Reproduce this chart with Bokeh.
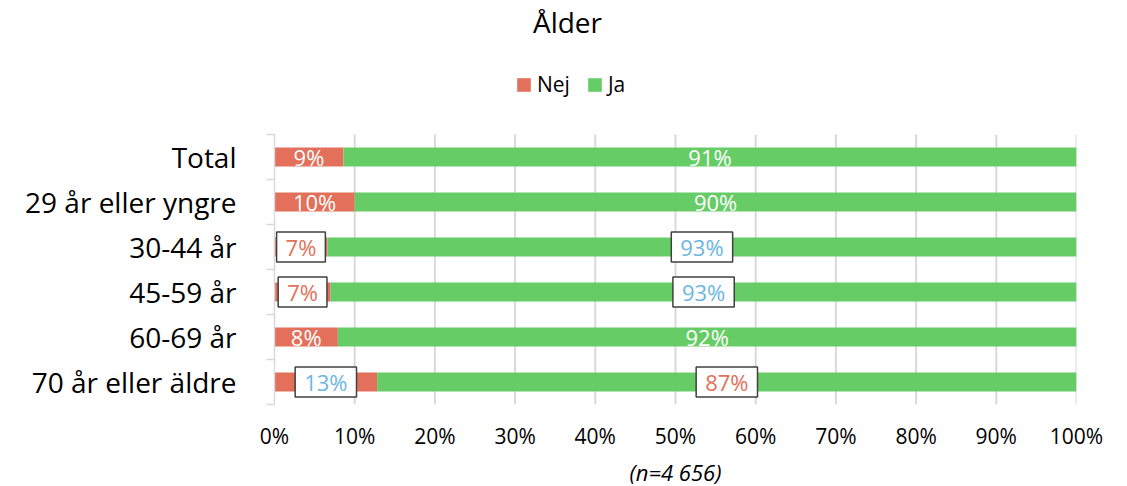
from bokeh.plotting import figure
from bokeh.models import (ColumnDataSource, FixedTicker, Label, Legend, LegendItem, Title)
from bokeh.core.properties import value
from bokeh.embed import file_html
from bokeh.resources import INLINE

# ---------------- data ----------------
categories = ["Total", "29 år eller yngre", "30-44 år", "45-59 år", "60-69 år", "70 år eller äldre"]
nej = [8.6, 10.0, 6.6, 7.0, 7.9, 12.8]
ja = [91.4, 90.0, 93.4, 93.0, 92.1, 87.2]
nej_labels = ["9%", "10%", "7%", "7%", "8%", "13%"]
ja_labels = ["91%", "90%", "93%", "93%", "92%", "87%"]
series_names = ["Nej", "Ja"]
x_ticks = [0, 10, 20, 30, 40, 50, 60, 70, 80, 90, 100]
x_tick_labels = ["0%", "10%", "20%", "30%", "40%", "50%", "60%", "70%", "80%", "90%", "100%"]
title_text = "Ålder"
note_text = "(n=4 656)"

# ---------------- style ----------------
RED = "#E2705A"
GREEN = "#66CC66"
BLUE = "#6BB6E2"
BORDER = "#404040"
GRID = "#D9D9D9"
FONT = "Open Sans"
boxed_rows = [2, 3, 5]
nej_box_color = {2: RED, 3: RED, 5: BLUE}
ja_box_color = {2: BLUE, 3: BLUE, 5: RED}

W, H = 1120, 486
FL, FT, FW, FH = 274, 0, 802, 404   # frame
PX_PER_ROW = 45.0

n = len(categories)
ypos = [n - i - 0.5 for i in range(n)]
ends = [a + b for a, b in zip(nej, ja)]
y_top = FH / PX_PER_ROW

src = ColumnDataSource(dict(y=ypos, nej=nej, ends=ends))

p = figure(width=W, height=H, output_backend="svg", toolbar_location=None,
           x_range=(0, 100), y_range=(0, y_top),
           frame_width=FW, frame_height=FH,
           min_border_left=FL, min_border_right=W - FL - FW,
           min_border_top=0, min_border_bottom=H - FH)
p.title.visible = False
p.outline_line_color = None
p.background_fill_color = "white"

# vertical grid lines (only across the bar area)
p.segment(x0=x_ticks[1:], y0=0, x1=x_ticks[1:], y1=n, line_color=GRID, line_width=2)

r_nej = p.hbar(y="y", left=0, right="nej", height=0.42, source=src, fill_color=RED, line_color=None)
r_ja = p.hbar(y="y", left="nej", right="ends", height=0.42, source=src, fill_color=GREEN, line_color=None)

# x axis
xa = p.xaxis[0]
xa.ticker = FixedTicker(ticks=x_ticks)
xa.major_label_overrides = {t: l for t, l in zip(x_ticks, x_tick_labels)}
xa.axis_line_color = None
xa.major_tick_line_color = None
xa.minor_tick_line_color = None
xa.major_label_text_font = FONT
xa.major_label_text_font_size = "21px"
xa.major_label_text_color = "black"
xa.major_label_standoff = 11

# y axis
ya = p.yaxis[0]
ya.bounds = (0, n)
ya.ticker = FixedTicker(ticks=ypos, minor_ticks=list(range(n + 1)))
ya.major_label_overrides = {y: c for y, c in zip(ypos, categories)}
ya.axis_line_color = GRID
ya.axis_line_width = 1.5
ya.major_tick_line_color = None
ya.minor_tick_line_color = GRID
ya.minor_tick_line_width = 1.5
ya.minor_tick_out = 8
ya.minor_tick_in = 0
ya.major_label_text_font = FONT
ya.major_label_text_font_size = "28px"
ya.major_label_text_color = "black"
ya.major_label_standoff = 30

p.xgrid.grid_line_color = None
p.ygrid.grid_line_color = None

# data labels
plain = [i for i in range(n) if i not in boxed_rows]
for idx_list, boxed in ((plain, False), (boxed_rows, True)):
    xs, ys, txt, cols = [], [], [], []
    for i in idx_list:
        xs.append(nej[i] / 2); ys.append(ypos[i]); txt.append(nej_labels[i])
        cols.append(nej_box_color[i] if boxed else "white")
        xs.append(nej[i] + ja[i] / 2); ys.append(ypos[i]); txt.append(ja_labels[i])
        cols.append(ja_box_color[i] if boxed else "white")
    s = ColumnDataSource(dict(x=xs, y=ys, text=txt, color=cols))
    kw = dict(x="x", y="y", text="text", source=s, text_color="color",
              text_font=value(FONT), text_font_size="22px",
              text_align="center", text_baseline="middle")
    if boxed:
        kw.update(background_fill_color="white", border_line_color=BORDER,
                  border_line_width=1.5, padding=(9, 0))
    p.text(**kw)

# legend
legend = Legend(items=[LegendItem(label=series_names[0], renderers=[r_nej]),
                       LegendItem(label=series_names[1], renderers=[r_ja])],
                location=(515 - FL, 306), orientation="horizontal",
                glyph_width=17, glyph_height=17, label_standoff=5, spacing=16,
                padding=0, margin=0, border_line_color=None, background_fill_alpha=0,
                label_text_font=FONT, label_text_font_size="21px", label_text_color="black")
p.add_layout(legend)

# title (inside the frame, above the bars)
p.add_layout(Label(x=(567 - FL) / 8.02, y=(FH - 21) / PX_PER_ROW, text=title_text,
                   text_font=FONT, text_font_size="28px",
                   text_align="center", text_baseline="alphabetic", text_color="black"))

# sample-size note below the axis
p.add_layout(Title(text=note_text, align="center", text_font=FONT, text_font_size="22px",
                   text_font_style="italic", text_color="black", standoff=5), "below")

open("out.html", "w").write(file_html(p, INLINE))
